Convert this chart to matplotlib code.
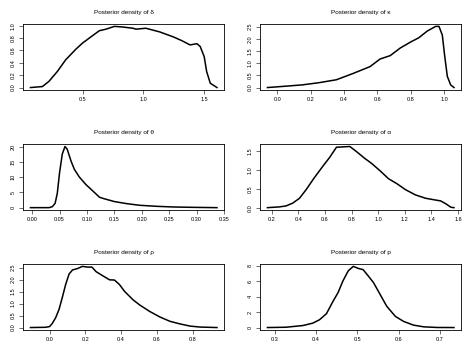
import numpy as np
import matplotlib
matplotlib.use("Agg")
from matplotlib import pyplot as plt

plt.rcParams['font.family'] = ['Liberation Sans', 'DejaVu Sans']

# values
delta_x = [0.072, 0.17, 0.224, 0.293, 0.362, 0.445, 0.5, 0.555, 0.638, 0.693, 0.762, 0.83,
           0.914, 0.94, 1.02, 1.135, 1.246, 1.315, 1.384, 1.44, 1.467, 1.5, 1.52, 1.55, 1.605]
delta_y = [0.0, 0.016, 0.1, 0.26, 0.45, 0.62, 0.72, 0.8, 0.92, 0.945, 0.99, 0.98,
           0.96, 0.945, 0.96, 0.9, 0.82, 0.76, 0.69, 0.71, 0.665, 0.5, 0.26, 0.07, 0.0]

kappa_x = [-0.06, 0.05, 0.15, 0.25, 0.354, 0.455, 0.556, 0.616, 0.677, 0.737, 0.8, 0.848,
           0.9, 0.95, 0.97, 0.99, 1.004, 1.02, 1.04, 1.06]
kappa_y = [0.0, 0.056, 0.11, 0.2, 0.32, 0.58, 0.86, 1.17, 1.31, 1.62, 1.87, 2.04,
           2.32, 2.51, 2.51, 2.15, 1.31, 0.46, 0.11, 0.0]

theta_x = [-0.003, 0.031, 0.037, 0.042, 0.046, 0.05, 0.055, 0.06, 0.064, 0.071, 0.077, 0.086,
           0.098, 0.11, 0.123, 0.132, 0.15, 0.172, 0.196, 0.227, 0.258, 0.294, 0.337]
theta_y = [0.0, 0.0, 0.33, 1.44, 4.8, 11.4, 17.6, 20.1, 19.2, 15.3, 12.6, 10.1,
           7.6, 5.6, 3.4, 2.9, 2.0, 1.33, 0.78, 0.44, 0.22, 0.1, 0.0]

alpha_x = [0.167, 0.256, 0.306, 0.357, 0.408, 0.458, 0.52, 0.585, 0.635, 0.686, 0.787, 0.838,
           0.9, 0.95, 1.015, 1.078, 1.14, 1.205, 1.28, 1.357, 1.42, 1.47, 1.51, 1.547, 1.57]
alpha_y = [0.0, 0.02, 0.045, 0.12, 0.25, 0.48, 0.8, 1.11, 1.34, 1.61, 1.63, 1.49,
           1.31, 1.18, 0.98, 0.77, 0.64, 0.48, 0.34, 0.25, 0.21, 0.18, 0.1, 0.01, 0.0]

rho_x = [-0.107, -0.023, 0.0, 0.015, 0.034, 0.053, 0.071, 0.09, 0.109, 0.128, 0.156, 0.184,
         0.212, 0.237, 0.26, 0.297, 0.335, 0.363, 0.391, 0.419, 0.466, 0.504, 0.56, 0.617,
         0.673, 0.73, 0.786, 0.842, 0.936]
rho_y = [0.0, 0.01, 0.04, 0.17, 0.41, 0.76, 1.25, 1.8, 2.23, 2.4, 2.46, 2.55,
         2.52, 2.52, 2.33, 2.16, 1.99, 1.98, 1.79, 1.51, 1.16, 0.94, 0.67, 0.44,
         0.26, 0.15, 0.06, 0.02, 0.0]

p_x = [0.282, 0.327, 0.368, 0.392, 0.408, 0.425, 0.441, 0.453, 0.465, 0.478, 0.49, 0.502,
       0.514, 0.526, 0.539, 0.555, 0.571, 0.592, 0.612, 0.636, 0.661, 0.693, 0.734]
p_y = [0.0, 0.04, 0.26, 0.57, 1.0, 1.79, 3.4, 4.5, 6.03, 7.34, 7.9, 7.64,
       7.47, 6.68, 5.8, 4.28, 2.75, 1.44, 0.79, 0.31, 0.09, 0.01, 0.0]

titles = ["Posterior density of \u03b4", "Posterior density of \u03ba",
          "Posterior density of \u03b8", "Posterior density of \u03b1",
          "Posterior density of \u03c1", "Posterior density of p"]
xticks = [[0.5, 1.0, 1.5], [0.0, 0.2, 0.4, 0.6, 0.8, 1.0],
          [0.0, 0.05, 0.10, 0.15, 0.20, 0.25, 0.30, 0.35],
          [0.2, 0.4, 0.6, 0.8, 1.0, 1.2, 1.4, 1.6], [0.0, 0.2, 0.4, 0.6, 0.8],
          [0.3, 0.4, 0.5, 0.6, 0.7]]
xlabels = [["0.5", "1.0", "1.5"], ["0.0", "0.2", "0.4", "0.6", "0.8", "1.0"],
           ["0.00", "0.05", "0.10", "0.15", "0.20", "0.25", "0.30", "0.35"],
           ["0.2", "0.4", "0.6", "0.8", "1.0", "1.2", "1.4", "1.6"],
           ["0.0", "0.2", "0.4", "0.6", "0.8"], ["0.3", "0.4", "0.5", "0.6", "0.7"]]
yticks = [[0.0, 0.2, 0.4, 0.6, 0.8, 1.0], [0.0, 0.5, 1.0, 1.5, 2.0, 2.5],
          [0, 5, 10, 15, 20], [0.0, 0.5, 1.0, 1.5], [0.0, 0.5, 1.0, 1.5, 2.0, 2.5],
          [0, 2, 4, 6, 8]]
ylabels = [["0.0", "0.2", "0.4", "0.6", "0.8", "1.0"], ["0.0", "0.5", "1.0", "1.5", "2.0", "2.5"],
           ["0", "5", "10", "15", "20"], ["0.0", "0.5", "1.0", "1.5"],
           ["0.0", "0.5", "1.0", "1.5", "2.0", "2.5"], ["0", "2", "4", "6", "8"]]

xs = [delta_x, kappa_x, theta_x, alpha_x, rho_x, p_x]
ys = [delta_y, kappa_y, theta_y, alpha_y, rho_y, p_y]

fig = plt.figure(figsize=(4.74, 3.61), dpi=100)
lefts = [0.0485, 0.5485]
bottoms = [0.7507, 0.418, 0.0859]
w, h = 0.425, 0.183

for i in range(6):
    ax = fig.add_axes([lefts[i % 2], bottoms[i // 2], w, h])
    x = np.array(xs[i])
    y = np.array(ys[i])
    ax.plot(x, y, color='black', lw=1.1)
    # R-style 4% padding
    xr = x.max() - x.min()
    yr = y.max() - y.min()
    ax.set_xlim(x.min() - 0.04 * xr, x.max() + 0.04 * xr)
    ax.set_ylim(y.min() - 0.04 * yr, y.max() + 0.04 * yr)
    ax.set_xticks(xticks[i])
    ax.set_xticklabels(xlabels[i])
    ax.set_yticks(yticks[i])
    ax.set_yticklabels(ylabels[i], rotation=90, va='center')
    ax.tick_params(labelsize=4, length=2.6, width=0.5, pad=2.5, color='#333333')
    for s in ax.spines.values():
        s.set_linewidth(0.6)
    ax.set_title(titles[i], fontsize=4.6, pad=7)

fig.savefig("out.png", dpi=100)
